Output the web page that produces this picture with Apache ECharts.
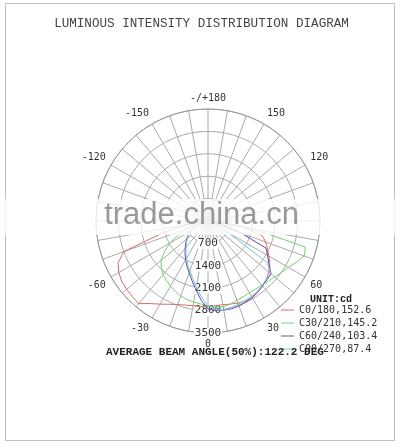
<!DOCTYPE html>
<html lang="en">
<head>
    <meta charset="UTF-8">
    <title>index</title>
    <script src="https://cdn.jsdelivr.net/npm/echarts@6/dist/echarts.min.js"></script>
    <style>
        html, body { margin: 0; padding: 0; background: #fff; }
        #main { width: 403px; height: 448px; }
    </style>
</head>
<body>
<div id="main"></div>

<script type="text/javascript">
    // gamma angles in degrees, 0 = straight down, negative = left half
    var angles = [-90, -85, -80, -75, -70, -65, -60, -55, -50, -45, -40, -35, -30, -25, -20, -15, -10, -5, 0,
        5, 10, 15, 20, 25, 30, 35, 40, 45, 50, 55, 60, 65, 70, 75, 80, 85, 90];

    // luminous intensity (cd)
    var c0_180 = [0, 300, 700, 1500, 2800, 3100, 3220, 3290, 3320, 3340, 3370, 3150, 3000, 2870, 2780, 2720, 2690, 2680, 2670,
        2660, 2655, 2690, 2730, 2765, 2760, 2720, 2660, 2580, 2480, 2360, 2200, 2050, 1920, 1750, 1100, 500, 0];
    var c30_210 = [0, 150, 350, 500, 700, 1000, 1380, 1650, 1920, 2060, 2180, 2270, 2345, 2420, 2490, 2540, 2575, 2600, 2650,
        2700, 2720, 2690, 2647, 2610, 2590, 2595, 2620, 2660, 2720, 2800, 2900, 3050, 3200, 3150, 1450, 500, 0];
    var c60_240 = [0, 70, 160, 260, 380, 500, 630, 750, 870, 990, 1110, 1250, 1400, 1560, 1720, 1930, 2180, 2480, 2750,
        2810, 2830, 2840, 2830, 2800, 2766, 2700, 2640, 2600, 2575, 2320, 2150, 2000, 1100, 500, 250, 100, 0];
    var c90_270 = [0, 60, 140, 240, 360, 480, 600, 720, 840, 950, 1060, 1200, 1350, 1500, 1650, 1850, 2090, 2380, 2650,
        2780, 2835, 2800, 2770, 2740, 2715, 2690, 2630, 2570, 2550, 2250, 700, 350, 200, 100, 50, 20, 0];

    var seriesNames = ['C0/180,152.6', 'C30/210,145.2', 'C60/240,103.4', 'C90/270,87.4'];
    var seriesValues = [c0_180, c30_210, c60_240, c90_270];
    var seriesColors = ['#d86a6c', '#72d072', '#5c4ea6', '#74c6e6'];

    var radiusMax = 3500;
    var radiusStep = 700;

    var monoFont = '"DejaVu Sans Mono", "Liberation Mono", monospace';
    var courier = '"Liberation Mono", monospace';

    var myChart = echarts.init(document.getElementById('main'));

    var series = [];
    for (var i = 0; i < seriesNames.length; i++) {
        var pts = [];
        for (var j = 0; j < angles.length; j++) {
            var a = angles[j] < 0 ? angles[j] + 360 : angles[j];
            pts.push([seriesValues[i][j], a]);
        }
        series.push({
            name: seriesNames[i],
            type: 'line',
            coordinateSystem: 'polar',
            symbol: 'none',
            silent: true,
            lineStyle: {width: 1, color: seriesColors[i]},
            itemStyle: {color: seriesColors[i]},
            data: pts
        });
    }

    var option = {
        animation: false,
        title: [{
            text: 'LUMINOUS INTENSITY DISTRIBUTION DIAGRAM',
            left: 'center',
            top: 12,
            textStyle: {fontFamily: courier, fontSize: 12.6, fontWeight: 'normal', color: '#444'}
        }, {
            text: 'UNIT:cd',
            left: 305,
            top: 289,
            textStyle: {fontFamily: courier, fontSize: 10, fontWeight: 'bold', color: '#222'}
        }, {
            text: 'AVERAGE BEAM ANGLE(50%):122.2 DEG',
            left: 101,
            top: 342,
            textStyle: {fontFamily: courier, fontSize: 11, fontWeight: 'bold', color: '#222'}
        }],
        legend: {
            orient: 'vertical',
            left: 281,
            top: 304,
            padding: 0,
            icon: 'rect',
            itemWidth: 13,
            itemHeight: 1,
            itemGap: 1,
            selectedMode: false,
            textStyle: {fontFamily: monoFont, fontSize: 10, color: '#333', lineHeight: 12},
            data: seriesNames
        },
        polar: {
            center: [208, 221],
            radius: 112
        },
        angleAxis: {
            type: 'value',
            min: 0,
            max: 360,
            interval: 10,
            startAngle: 270,
            clockwise: false,
            axisLine: {lineStyle: {color: '#999', width: 1}},
            axisTick: {show: false},
            splitLine: {lineStyle: {color: '#aaa', width: 1}},
            axisLabel: {
                margin: 6,
                fontFamily: monoFont,
                fontSize: 10,
                color: '#333',
                formatter: function (v) {
                    if (v % 30 !== 0 || v === 360 || v === 90 || v === 270) return '';
                    if (v === 180) return '-/+180';
                    return v > 180 ? String(v - 360) : String(v);
                }
            }
        },
        radiusAxis: {
            type: 'value',
            min: 0,
            max: radiusMax,
            interval: radiusStep,
            axisLine: {show: false},
            axisTick: {show: false},
            splitLine: {lineStyle: {color: '#aaa', width: 1}},
            axisLabel: {
                margin: 0,
                align: 'center',
                verticalAlign: 'middle',
                showMinLabel: false,
                fontFamily: monoFont,
                fontSize: 11,
                color: '#333',
                backgroundColor: '#fff',
                padding: [0, 1],
                formatter: function (v) { return String(v); }
            }
        },
        graphic: [{
            type: 'rect',
            shape: {x: 5.5, y: 3.5, width: 389, height: 437},
            style: {fill: 'none', stroke: '#bdbdbd', lineWidth: 1},
            silent: true
        }, {
            type: 'rect',
            shape: {x: 0, y: 199, width: 403, height: 36},
            style: {fill: 'rgba(255,255,255,0.8)'},
            z: 10,
            silent: true
        }, {
            type: 'text',
            left: 'center',
            top: 200,
            style: {text: 'trade.china.cn', fontFamily: '"Liberation Sans", Arial, sans-serif', fontSize: 31, fill: 'rgba(120,120,120,0.75)'},
            z: 11,
            silent: true
        }],
        series: series
    };

    myChart.setOption(option);
</script>
</body>
</html>
